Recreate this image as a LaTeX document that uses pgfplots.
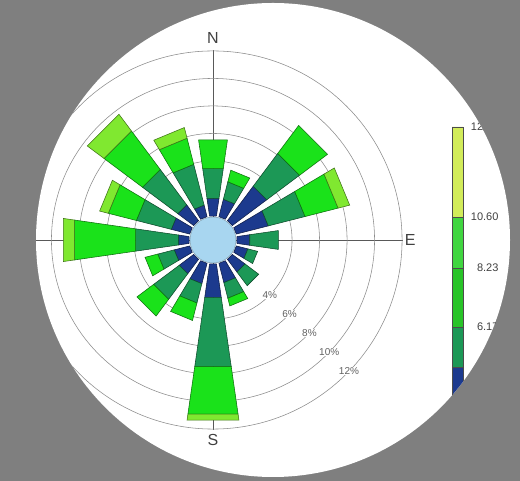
\documentclass[border=0pt]{standalone}
\usepackage{pgfplots}
\pgfplotsset{compat=1.18}
\usepgfplotslibrary{polar}
\usepackage{fontspec}
\setmainfont{Liberation Sans}

\definecolor{bggray}{RGB}{127,127,127}
\definecolor{cb}{RGB}{28,58,142}
\definecolor{ct}{RGB}{28,152,86}
\definecolor{cg}{RGB}{26,226,26}
\definecolor{cy}{RGB}{128,232,48}
\definecolor{calm}{RGB}{168,214,240}
\definecolor{cbar1}{RGB}{210,236,90}
\definecolor{cbar2}{RGB}{64,214,64}
\definecolor{cbar3}{RGB}{40,196,40}

% one segment of a petal: colour, compass direction (deg), inner %, outer %
\newcommand\seg[4]{%
  \pgfmathsetmacro\aA{90-#2-8.2}%
  \pgfmathsetmacro\aB{90-#2+8.2}%
  \pgfmathsetmacro\rA{#3+1.75}%
  \pgfmathsetmacro\rB{#4+1.75}%
  \edef\tmp{\noexpand\addplot[mark=none,fill=#1,draw=#1!50!black,line width=0.55pt]
    coordinates {(\aA,\rA) (\aB,\rA) (\aB,\rB) (\aA,\rB) (\aA,\rA)};}\tmp}

\tikzset{rlab/.style={text=black!62, fill=white, inner sep=0.6pt, font=\fontsize{10}{12}\selectfont},
  clab/.style={text=black!75, font=\fontsize{16}{18}\selectfont}}

\begin{document}
\begin{tikzpicture}[x=1pt,y=1pt]
\fill[bggray] (0,0) rectangle (520,481);
\fill[white] (273,241) circle[radius=237];
\begin{scope}
\clip (273,241) circle[radius=237];
\begin{polaraxis}[
  at={(213pt,241pt)}, anchor=center,
  scale only axis, width=380.05pt, height=380.05pt,
  xmin=0, xmax=360, ymin=0, ymax=13.82,
  xtick={0,90,180,270}, xticklabels={},
  ytick={5.75,7.75,9.75,11.75,13.75}, yticklabels={},
  xmajorgrids, ymajorgrids,
  x grid style={color=black!65, line width=0.55pt},
  y grid style={color=black!45, line width=0.55pt},
  axis line style={draw=none},
  major tick length=0pt,
  clip=false,
]
% N
\seg{cb}{0}{0}{1.31}\seg{ct}{0}{1.31}{3.49}\seg{cg}{0}{3.49}{5.60}
% NNE
\seg{cb}{22.5}{0}{1.31}\seg{ct}{22.5}{1.31}{2.62}\seg{cg}{22.5}{2.62}{3.49}
% NE
\seg{cb}{45}{0}{3.13}\seg{ct}{45}{3.13}{6.11}\seg{cg}{45}{6.11}{8.65}
% ENE
\seg{cb}{67.5}{0}{2.40}\seg{ct}{67.5}{2.40}{5.16}\seg{cg}{67.5}{5.16}{7.64}\seg{cy}{67.5}{7.64}{8.51}
% E
\seg{cb}{90}{0}{0.95}\seg{ct}{90}{0.95}{3.05}
% ESE
\seg{cb}{112.5}{0}{0.87}\seg{ct}{112.5}{0.87}{1.60}
% SE
\seg{cb}{135}{0}{1.16}\seg{ct}{135}{1.16}{2.40}
% SSE
\seg{cb}{157.5}{0}{1.45}\seg{ct}{157.5}{1.45}{2.62}\seg{cg}{157.5}{2.62}{3.20}
% S
\seg{cb}{180}{0}{2.47}\seg{ct}{180}{2.47}{7.56}\seg{cg}{180}{7.56}{11.05}\seg{cy}{180}{11.05}{11.49}
% SSW
\seg{cb}{202.5}{0}{1.53}\seg{ct}{202.5}{1.53}{2.98}\seg{cg}{202.5}{2.98}{4.29}
% SW
\seg{cb}{225}{0}{1.31}\seg{ct}{225}{1.31}{3.64}\seg{cg}{225}{3.64}{5.16}
% WSW
\seg{cb}{247.5}{0}{1.16}\seg{ct}{247.5}{1.16}{2.40}\seg{cg}{247.5}{2.40}{3.35}
% W
\seg{cb}{270}{0}{0.80}\seg{ct}{270}{0.80}{3.93}\seg{cg}{270}{3.93}{8.44}\seg{cy}{270}{8.44}{9.24}
% WNW
\seg{cb}{292.5}{0}{1.38}\seg{ct}{292.5}{1.38}{4.00}\seg{cg}{292.5}{4.00}{6.11}\seg{cy}{292.5}{6.11}{6.76}
% NW
\seg{cb}{315}{0}{1.45}\seg{ct}{315}{1.45}{4.65}\seg{cg}{315}{4.65}{8.15}\seg{cy}{315}{8.15}{9.67}
% NNW
\seg{cb}{337.5}{0}{0.87}\seg{ct}{337.5}{0.87}{3.93}\seg{cg}{337.5}{3.93}{5.89}\seg{cy}{337.5}{5.89}{6.69}
% calm
\addplot[only marks, mark=*, mark size=23pt, mark options={fill=calm, draw=calm!70!black, line width=0.4pt}] coordinates {(0,0)};
\node[text=black!55, font=\fontsize{8.5}{10}\selectfont] at (axis cs:0,0) {3.4\%};
% compass labels
\node[clab] at (axis cs:90,14.69) {N};
\node[clab] at (axis cs:0,14.35) {E};
\node[clab] at (axis cs:270,14.55) {S};
\node[clab] at (axis cs:180,14.6) {W};
% radial labels
\node[rlab] at (axis cs:-44,5.75) {4\%};
\node[rlab] at (axis cs:-44,7.75) {6\%};
\node[rlab] at (axis cs:-44,9.75) {8\%};
\node[rlab] at (axis cs:-44,11.75) {10\%};
\node[rlab] at (axis cs:-44,13.75) {12\%};
\end{polaraxis}
\begin{axis}[
  at={(452pt,60pt)}, anchor=south west,
  scale only axis, width=11pt, height=294pt,
  xmin=0, xmax=1, ymin=60, ymax=354,
  axis line style={draw=none},
  xtick=\empty,
  ytick={154,213,264,354}, yticklabels={6.17,8.23,10.60,12.97},
  yticklabel pos=right, major tick length=0pt,
  yticklabel style={anchor=east, xshift=39pt, text=black!75, font=\fontsize{11}{13}\selectfont},
  /pgf/number format/assume math mode=true,
  clip=false,
]
\addplot[mark=none, fill=cb, draw=black!70] coordinates {(0,60) (1,60) (1,114) (0,114) (0,60)};
\addplot[mark=none, fill=ct, draw=black!70] coordinates {(0,114) (1,114) (1,154) (0,154) (0,114)};
\addplot[mark=none, fill=cbar3, draw=black!70] coordinates {(0,154) (1,154) (1,213) (0,213) (0,154)};
\addplot[mark=none, fill=cbar2, draw=black!70] coordinates {(0,213) (1,213) (1,264) (0,264) (0,213)};
\addplot[mark=none, fill=cbar1, draw=black!70] coordinates {(0,264) (1,264) (1,354) (0,354) (0,264)};
\end{axis}
\end{scope}
\pgfresetboundingbox
\path[use as bounding box] (0,0) rectangle (520,481);
\end{tikzpicture}
\end{document}
